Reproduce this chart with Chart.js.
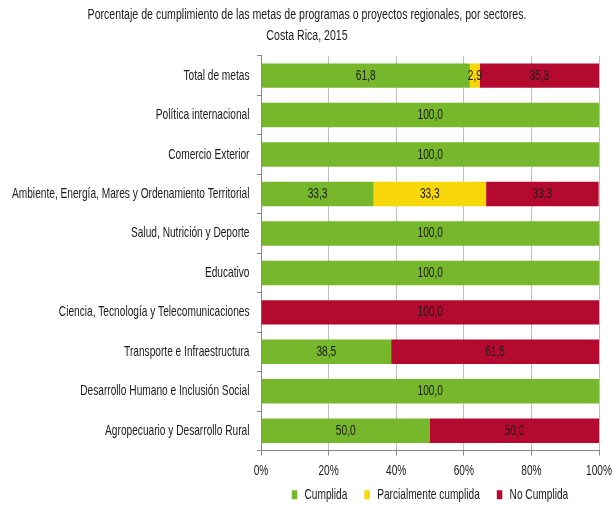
<!DOCTYPE html>
<html><head><meta charset="utf-8">
<script src="https://cdn.jsdelivr.net/npm/chart.js@4.4.0/dist/chart.umd.min.js"></script>
<style>html,body{margin:0;padding:0;background:#fff}#wrap{width:614px;height:508px;position:relative}</style>
</head><body><div id="wrap"><canvas id="c"></canvas></div>
<script>
const categories = ["Total de metas","Política internacional","Comercio Exterior","Ambiente, Energía, Mares y Ordenamiento Territorial","Salud, Nutrición y Deporte","Educativo","Ciencia, Tecnología y Telecomunicaciones","Transporte e Infraestructura","Desarrollo Humano e Inclusión Social","Agropecuario y Desarrollo Rural"];
const cumplida = [61.8,100,100,33.3,100,100,0,38.5,100,50];
const parcial  = [2.9,0,0,33.3,0,0,0,0,0,0];
const noCumplida = [35.3,0,0,33.3,0,0,100,61.5,0,50];
const seriesNames = ["Cumplida","Parcialmente cumplida","No Cumplida"];
const xTicks = ["0%","20%","40%","60%","80%","100%"];
const titleLines = ["Porcentaje de cumplimiento de las metas de programas o proyectos regionales, por sectores.","Costa Rica, 2015"];

const FONT = "'Liberation Sans',Arial,sans-serif";
const TXT = 14.5;     // body text size
const TITLE = 14;     // title size
const canvas = document.getElementById('c');
// Emulate a narrow face (Arial Narrow-like) by condensing text horizontally around its anchor point.
function kFor(font){
  const m = /([\d.]+)px/.exec(font);
  const s = m ? parseFloat(m[1]) : TXT;
  return s === TITLE ? 0.757 : 0.70;
}
const ctx2d = canvas.getContext('2d');
const origFill = ctx2d.fillText.bind(ctx2d);
const origMeasure = ctx2d.measureText.bind(ctx2d);
ctx2d.fillText = function(t, x, y, mw){
  const K = kFor(this.font);
  this.save();
  this.translate(x, y);
  this.scale(K, 1);
  if (mw !== undefined) origFill(t, 0, 0, mw / K); else origFill(t, 0, 0);
  this.restore();
};
ctx2d.measureText = function(t){
  const K = kFor(this.font);
  const m = origMeasure(t);
  return {width: m.width * K,
    actualBoundingBoxAscent: m.actualBoundingBoxAscent,
    actualBoundingBoxDescent: m.actualBoundingBoxDescent,
    actualBoundingBoxLeft: m.actualBoundingBoxLeft * K,
    actualBoundingBoxRight: m.actualBoundingBoxRight * K,
    fontBoundingBoxAscent: m.fontBoundingBoxAscent,
    fontBoundingBoxDescent: m.fontBoundingBoxDescent};
};

const labelPlugin = {
  id:'barLabels',
  afterLayout(chart){
    // centre the title on the full canvas width
    const tb = chart.titleBlock;
    if (tb) { tb.left = 0; tb.right = chart.width; tb.width = chart.width; }
  },
  afterDatasetsDraw(chart){
    const ctx = chart.ctx;
    ctx.save();
    ctx.font = TXT + "px " + FONT;
    ctx.fillStyle = "#1a1a1a";
    ctx.textAlign = "center";
    ctx.textBaseline = "middle";
    chart.data.datasets.forEach((ds,di)=>{
      const meta = chart.getDatasetMeta(di);
      meta.data.forEach((bar,i)=>{
        const v = ds.data[i];
        if(!v) return;
        const x = (bar.x + bar.base)/2;
        ctx.fillText(v.toFixed(1).replace('.',','), x, bar.y);
      });
    });
    ctx.restore();
  }
};

new Chart(canvas,{
  type:'bar',
  data:{
    labels:categories,
    datasets:[
      {label:seriesNames[0],data:cumplida,backgroundColor:'#77B72C'},
      {label:seriesNames[1],data:parcial,backgroundColor:'#F7D708'},
      {label:seriesNames[2],data:noCumplida,backgroundColor:'#B50A30'}
    ]
  },
  options:{
    indexAxis:'y',
    responsive:true,
    maintainAspectRatio:false,
    animation:false,
    layout:{padding:{left:0,right:15,top:0,bottom:-4}},
    datasets:{bar:{barPercentage:0.62,categoryPercentage:1,borderWidth:0}},
    plugins:{
      title:{display:true,text:titleLines,font:{family:FONT,size:TITLE,weight:'normal',lineHeight:1.46},color:'#1a1a1a',padding:{top:5.25,bottom:9.75}},
      legend:{position:'bottom',fullSize:false,labels:{font:{family:FONT,size:TXT},color:'#1a1a1a',boxWidth:5.5,boxHeight:9,padding:17}},
      tooltip:{enabled:false}
    },
    scales:{
      x:{stacked:true,min:0,max:100,
        afterFit:(s)=>{s.height -= 15; s.paddingRight = 0; s._computeLabelArea = () => undefined;},
        ticks:{stepSize:20,font:{family:FONT,size:TXT},color:'#1a1a1a',padding:6.3,callback:(v,i)=>xTicks[i]},
        grid:{color:'#BFBFBF',lineWidth:1,tickLength:5,tickColor:'#868686'},
        border:{color:'#868686'}
      },
      y:{stacked:true,
        afterFit:(s)=>{s.width=261;},
        ticks:{font:{family:FONT,size:TXT},color:'#1a1a1a',padding:7.5},
        grid:{drawOnChartArea:false,offset:true,tickLength:4,tickColor:'#868686'},
        border:{color:'#868686'}
      }
    }
  },
  plugins:[labelPlugin]
});
</script></body></html>
